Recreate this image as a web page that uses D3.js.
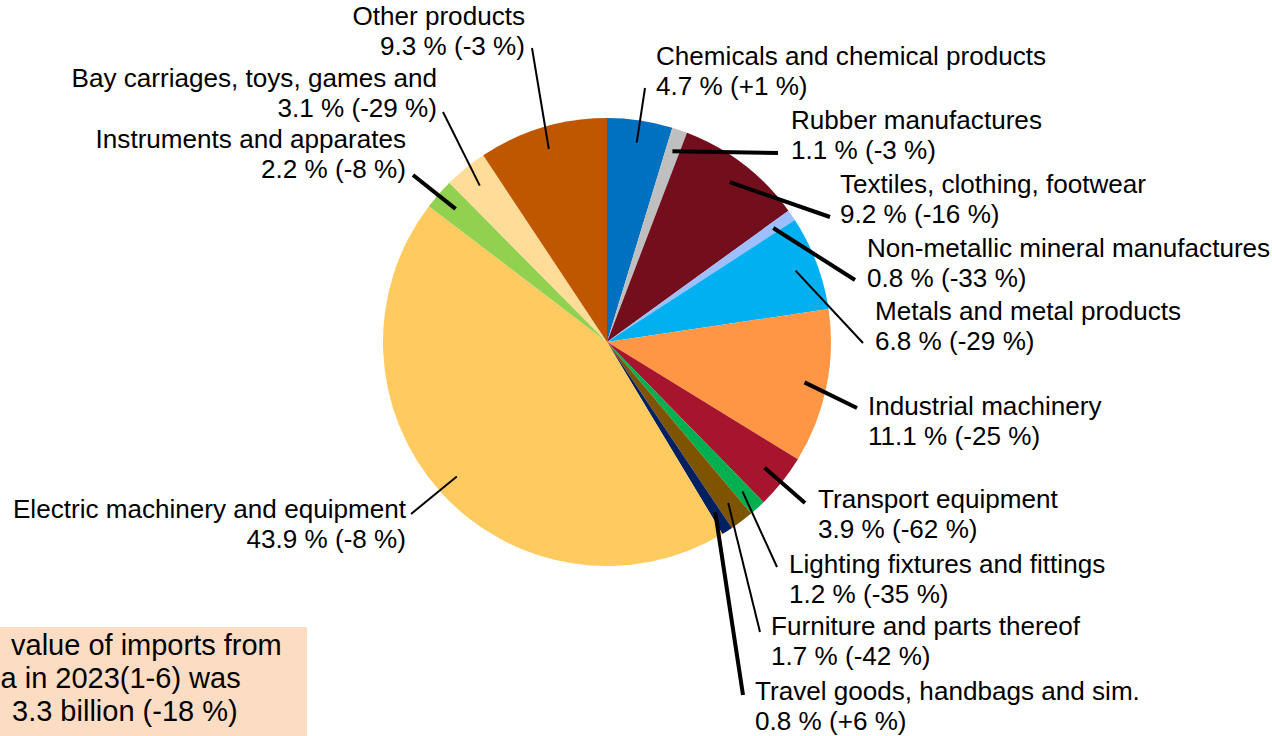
<!DOCTYPE html>
<html>
<head>
<meta charset="utf-8">
<script src="https://cdn.jsdelivr.net/npm/d3@7"></script>
<style>
	body { margin: 0; background: #fff; }
	svg { display: block; font-family: "Liberation Sans", Arial, sans-serif; }
	.lbl { font-size: 26.1px; fill: #000; }
	.note { font-size: 29px; fill: #000; }
</style>
</head>
<body>
<div class="chart"></div>
<script>
// shares of imports by product group, clockwise from 12 o'clock
var categories = ["Chemicals and chemical products", "Rubber manufactures", "Textiles, clothing, footwear",
	"Non-metallic mineral manufactures", "Metals and metal products", "Industrial machinery",
	"Transport equipment", "Lighting fixtures and fittings", "Furniture and parts thereof",
	"Travel goods, handbags and sim.", "Electric machinery and equipment", "Instruments and apparates",
	"Bay carriages, toys, games and", "Other products"];
var shares = [4.7, 1.1, 9.2, 0.8, 6.8, 11.1, 3.9, 1.2, 1.7, 0.8, 43.9, 2.2, 3.1, 9.3];
var changes = [1, -3, -16, -33, -29, -25, -62, -35, -42, 6, -8, -8, -29, -3];
// visible part of the note box text (it runs off the left edge in the original)
var noteLines = ["value of imports from", "a in 2023(1-6) was", "3.3 billion (-18 %)"];

var colors = ["#0070C0", "#BFBFBF", "#730E1D", "#9DBFFF", "#00B0F0", "#FF9645", "#A6142D",
	"#00B050", "#7F5400", "#002060", "#FFCB61", "#92D050", "#FFDC98", "#BF5700"];

// label placement: x, baseline, anchor, leader end x, leader end y, leader width
var labelLayout = [
	[656, 65, "start", 645, 88, 2],
	[791, 129, "start", 778, 153, 4],
	[840, 193, "start", 830, 217, 4],
	[867, 257, "start", 855, 280, 4],
	[875, 320, "start", 863, 343, 2],
	[868, 415, "start", 857, 408, 4],
	[818, 508, "start", 805, 503, 4],
	[789, 573, "start", 777, 567, 2],
	[771, 635, "start", 760, 632, 2],
	[755, 700, "start", 743, 695, 4],
	[406, 518, "end", 411, 514, 2],
	[406, 148, "end", 413, 175, 4],
	[437, 87, "end", 443, 112, 2],
	[525, 25, "end", 532, 48, 2]
];
var noteX = [11, 0.5, 12];

drawChart();

function fmtLabel(i) {
	var c = changes[i];
	return shares[i].toFixed(1) + " % (" + (c > 0 ? "+" : "") + c + " %)";
}

function drawChart() {
	var w = 1272, h = 736;
	var cx = 607, cy = 342, r = 224;

	var svg = d3.select(".chart")
				.append("svg")
				.attr("width", w)
				.attr("height", h);

	// note box in the lower left corner
	svg.append("rect")
		.attr("x", 0)
		.attr("y", 627)
		.attr("width", 307)
		.attr("height", 109)
		.attr("fill", "#FCDCC3");

	svg.append("g")
		.selectAll("text")
		.data(noteLines)
		.join("text")
		.attr("class", "note")
		.attr("x", function(d, i) { return noteX[i]; })
		.attr("y", function(d, i) { return 655 + i * 33; })
		.text(function(d) { return d; });

	var pie = d3.pie().sort(null).value(function(d) { return d; });
	var arcs = pie(shares);
	var arc = d3.arc().innerRadius(0).outerRadius(r);
	var inner = d3.arc().innerRadius(r * 0.9).outerRadius(r * 0.9);

	var g = svg.append("g").attr("transform", "translate(" + cx + "," + cy + ")");
	g.selectAll("path")
		.data(arcs)
		.join("path")
		.attr("d", arc)
		.attr("fill", function(d, i) { return colors[i]; });

	// leader lines
	g.selectAll("line")
		.data(arcs)
		.join("line")
		.attr("x1", function(d) { return inner.centroid(d)[0]; })
		.attr("y1", function(d) { return inner.centroid(d)[1]; })
		.attr("x2", function(d, i) { return labelLayout[i][3] - cx; })
		.attr("y2", function(d, i) { return labelLayout[i][4] - cy; })
		.attr("stroke", "#000")
		.attr("stroke-width", function(d, i) { return labelLayout[i][5]; });

	var labels = svg.append("g")
		.selectAll("text")
		.data(categories)
		.join("text")
		.attr("class", "lbl")
		.attr("text-anchor", function(d, i) { return labelLayout[i][2]; });

	labels.append("tspan")
		.attr("x", function(d, i) { return labelLayout[i][0]; })
		.attr("y", function(d, i) { return labelLayout[i][1]; })
		.text(function(d) { return d; });

	labels.append("tspan")
		.attr("x", function(d, i) { return labelLayout[i][0]; })
		.attr("y", function(d, i) { return labelLayout[i][1] + 29.5; })
		.text(function(d, i) { return fmtLabel(i); });
}
</script>
</body>
</html>
